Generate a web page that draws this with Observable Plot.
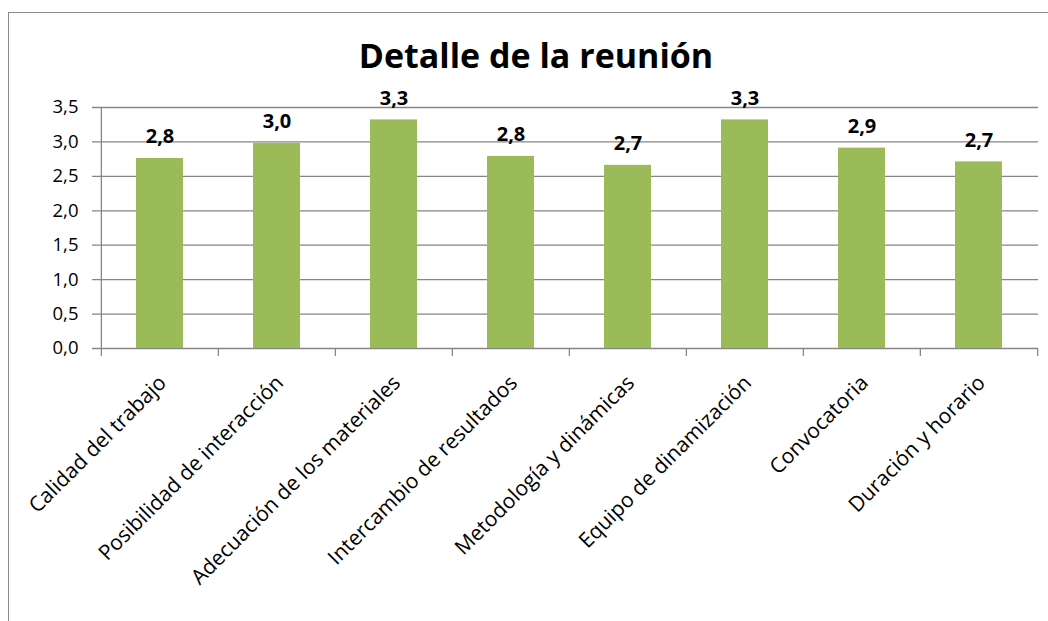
<!DOCTYPE html>
<html>
<head>
<meta charset="utf-8">
<script src="https://cdn.jsdelivr.net/npm/d3@7"></script>
<script src="https://cdn.jsdelivr.net/npm/@observablehq/plot@0.6"></script>
<style>
  html, body { margin: 0; padding: 0; background: #fff; overflow: hidden; }
  #wrap { position: relative; width: 1048px; height: 621px; overflow: hidden; font-family: "Open Sans", sans-serif; }
  #border { position: absolute; left: 8px; top: 12px; width: 1100px; height: 700px; border: 1px solid #8c8c8c; box-sizing: border-box; }
  #title { position: absolute; left: 0; width: 1048px; top: 33px; text-align: center; font-size: 34px; font-weight: bold; color: #000; line-height: 44px; padding-left: 24px; box-sizing: border-box; }
  #chart { position: absolute; left: 0; top: 0; }
</style>
</head>
<body>
<div id="wrap">
  <div id="border"></div>
  <div id="chart"></div>
  <div id="title">Detalle de la reunión</div>
</div>
<script>
const categories = [
  "Calidad del trabajo",
  "Posibilidad de interacción",
  "Adecuación de los materiales",
  "Intercambio de resultados",
  "Metodología y dinámicas",
  "Equipo de dinamización",
  "Convocatoria",
  "Duración y horario"
];
const values = [2.76, 2.98, 3.32, 2.79, 2.66, 3.32, 2.91, 2.71];
const yTicks = [0, 0.5, 1, 1.5, 2, 2.5, 3, 3.5];

const data = categories.map((c, i) => ({category: c, value: values[i]}));
const fmt = v => v.toFixed(1).replace(".", ",");

const W = 1048, H = 621;
const mL = 100, mR = 10, mT = 107, mB = 273;
const step = (W - mL - mR) / categories.length;
const lineColor = "#868686";

const chart = Plot.plot({
  width: W,
  height: H,
  marginLeft: mL,
  marginRight: mR,
  marginTop: mT,
  marginBottom: mB,
  style: {fontFamily: "'Open Sans', sans-serif", background: "transparent", overflow: "visible"},
  x: {domain: categories, paddingInner: 0.6, paddingOuter: 0.3, axis: null},
  y: {domain: [0, 3.5], axis: null},
  marks: [
    Plot.ruleY(yTicks, {y: d => d, stroke: lineColor, strokeWidth: 1.3, insetLeft: -8}),
    Plot.barY(data, {x: "category", y: "value", fill: "#9bbb59"}),
    // y-axis line
    Plot.ruleX([categories[0]], {x: d => d, dx: -step / 2, y1: 3.5, y2: 0, insetBottom: -8, stroke: lineColor, strokeWidth: 1.3}),
    // category boundary ticks
    Plot.ruleX(categories.slice(1), {x: d => d, dx: -step / 2, y1: 0, y2: 0, insetBottom: -8, stroke: lineColor, strokeWidth: 1.3}),
    Plot.ruleX([categories[categories.length - 1]], {x: d => d, dx: step / 2, y1: 0, y2: 0, insetBottom: -8, stroke: lineColor, strokeWidth: 1.3}),
    // y tick labels
    Plot.text(yTicks, {y: d => d, text: d => fmt(d), frameAnchor: "left", dx: -22, textAnchor: "end", fontSize: 18.5, fill: "#000"}),
    // value labels
    Plot.text(data, {x: "category", y: "value", text: d => fmt(d.value), lineAnchor: "bottom", dy: -15, fontSize: 20, fontWeight: "bold", fill: "#000"}),
    // category labels
    Plot.text(data, {x: "category", y: () => 0, text: "category", rotate: -45, textAnchor: "end", lineAnchor: "top", dx: -3, dy: 25, fontSize: 21, fill: "#000"})
  ]
});
document.getElementById("chart").appendChild(chart);
</script>
</body>
</html>
